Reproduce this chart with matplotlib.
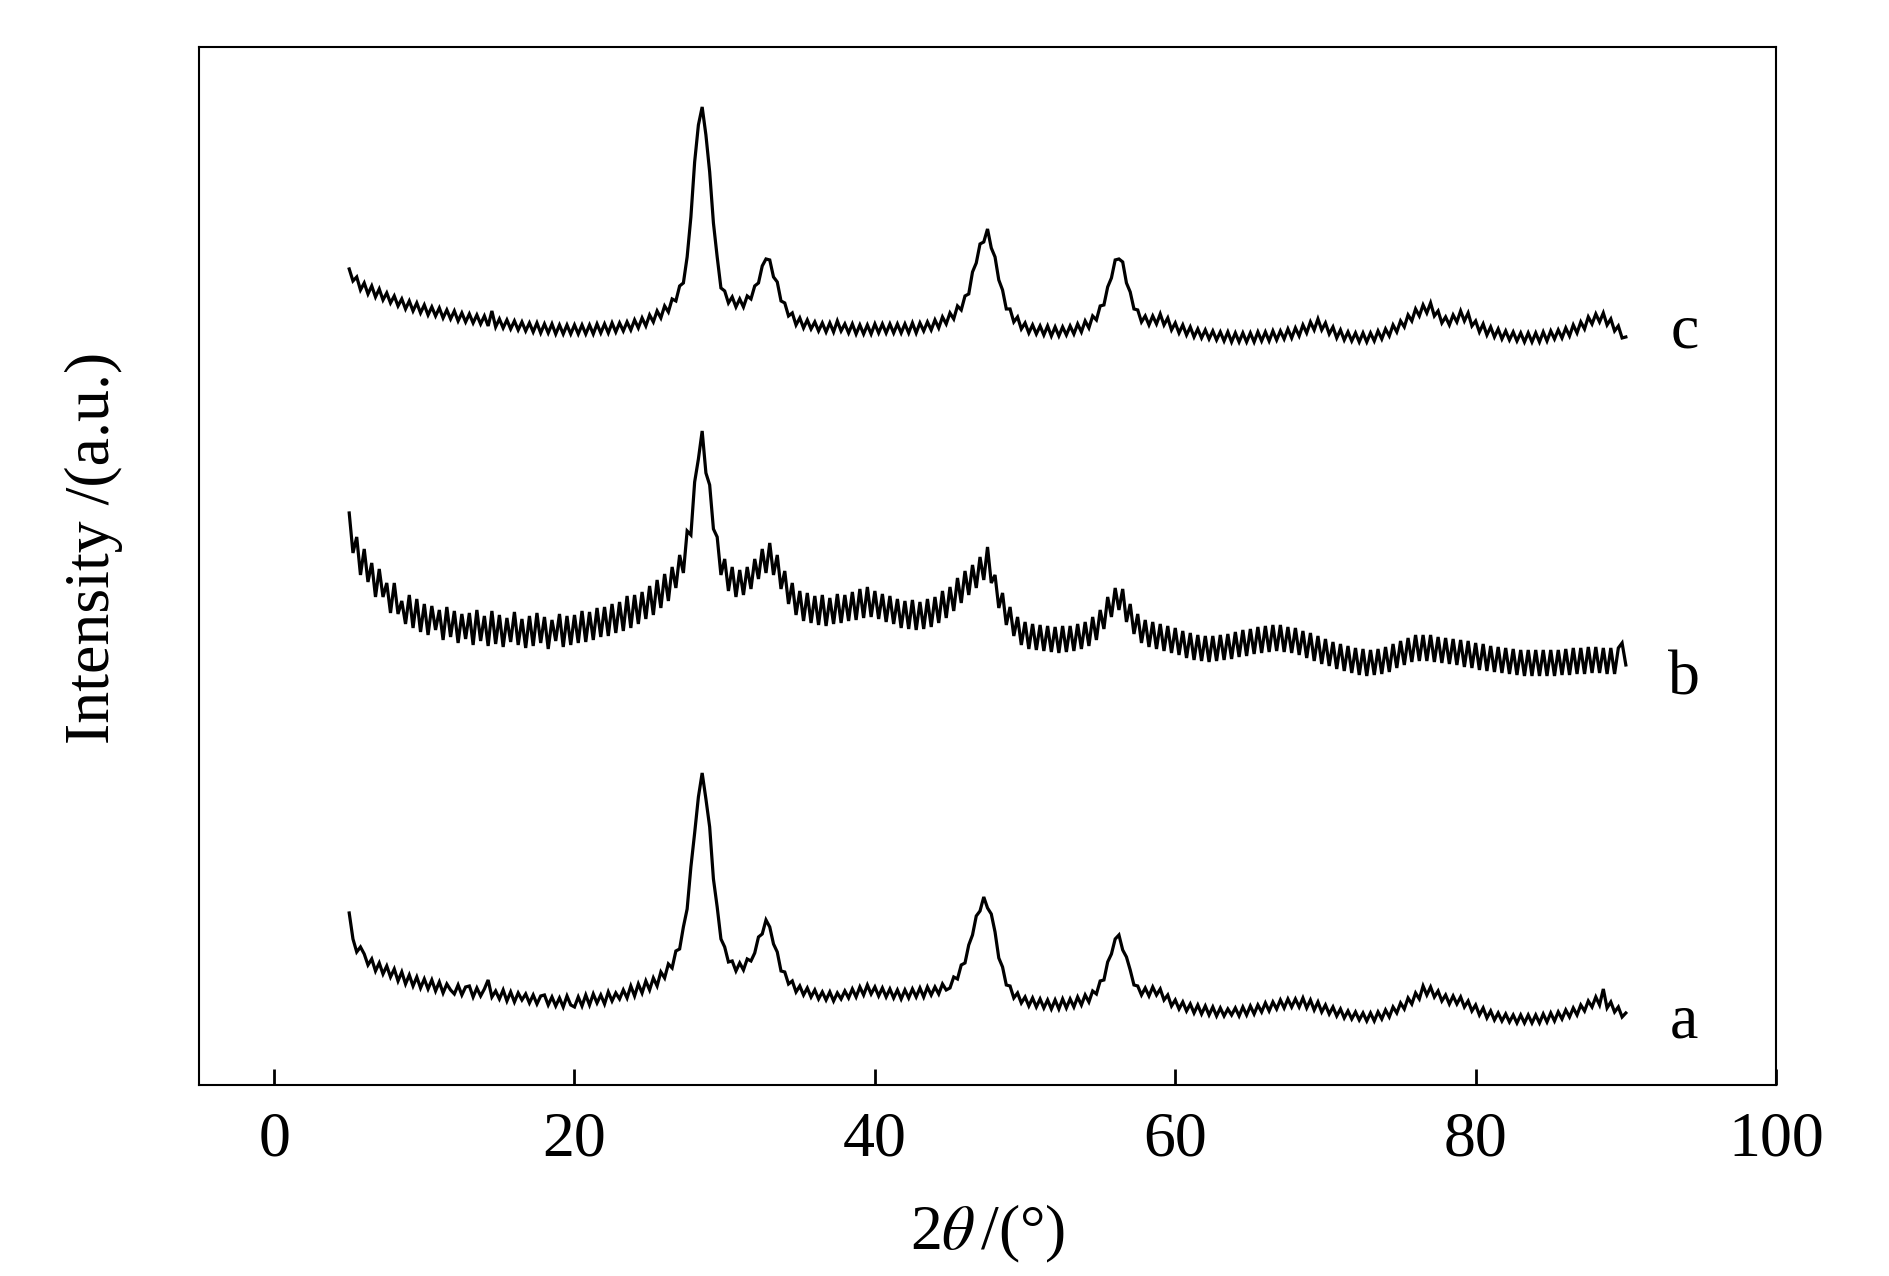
import numpy as np
import matplotlib.pyplot as plt

plt.rcParams['font.family'] = ['Liberation Serif', 'DejaVu Serif']
plt.rcParams['mathtext.fontset'] = 'stix'

# scan: 2theta from 5 to 90 deg, 0.25 deg step
scan_start = 5.0
scan_step = 0.25

# intensities (a.u.), one row = 5 degrees
sample_a = [
    172, 146, 133, 138, 131, 120, 126, 114, 122, 111, 119, 108, 116, 104, 113, 101, 110, 99, 108, 97,
    106, 96, 105, 94, 103, 92, 101, 95, 91, 100, 90, 98, 99, 88, 97, 89, 96, 105, 88, 94,
    86, 95, 84, 93, 83, 92, 85, 91, 82, 90, 81, 89, 90, 80, 88, 79, 87, 78, 89, 80,
    78, 88, 79, 90, 80, 91, 82, 90, 81, 93, 84, 92, 86, 95, 87, 99, 89, 101, 92, 104,
    95, 107, 99, 113, 107, 121, 117, 134, 136, 158, 176, 218, 252, 288, 312, 286, 258, 206, 178, 146,
    138, 123, 124, 114, 122, 115, 126, 124, 132, 148, 151, 165, 158, 141, 133, 114, 113, 101, 104, 93,
    99, 90, 97, 88, 95, 86, 93, 85, 93, 84, 92, 86, 94, 87, 96, 88, 98, 90, 100, 91,
    98, 89, 97, 88, 96, 87, 95, 86, 95, 87, 96, 88, 97, 88, 98, 90, 98, 91, 101, 95,
    97, 108, 106, 120, 122, 140, 150, 169, 174, 188, 177, 171, 153, 127, 118, 100, 99, 87, 92, 82,
    88, 79, 87, 78, 86, 77, 85, 76, 85, 76, 86, 77, 86, 78, 88, 80, 90, 83, 94, 91,
    104, 105, 123, 131, 146, 150, 135, 128, 115, 100, 99, 90, 97, 89, 98, 90, 96, 85, 90, 79,
    85, 76, 83, 74, 81, 72, 80, 71, 79, 70, 78, 69, 77, 69, 76, 70, 77, 69, 78, 70,
    79, 71, 80, 73, 82, 74, 83, 76, 85, 77, 86, 78, 86, 78, 87, 77, 85, 75, 83, 73,
    80, 71, 78, 69, 76, 67, 74, 66, 73, 65, 72, 64, 72, 64, 73, 66, 75, 68, 78, 72,
    82, 76, 87, 81, 92, 86, 99, 90, 98, 88, 94, 84, 90, 81, 89, 81, 88, 78, 84, 74,
    80, 70, 77, 67, 74, 65, 72, 64, 71, 63, 70, 62, 70, 62, 70, 62, 70, 62, 71, 63,
    72, 64, 73, 66, 75, 68, 77, 70, 80, 74, 84, 78, 88, 80, 96, 77, 83, 73, 78, 68,
    72,
]

sample_b = [
    212, 172, 188, 150, 176, 143, 162, 128, 156, 128, 142, 112, 142, 111, 124, 101, 130, 97, 126, 93,
    121, 90, 119, 95, 115, 85, 118, 88, 114, 82, 111, 86, 112, 80, 115, 84, 109, 79, 114, 81,
    110, 78, 107, 83, 113, 80, 106, 77, 109, 79, 112, 82, 108, 76, 105, 84, 111, 78, 109, 80,
    110, 82, 114, 83, 113, 85, 117, 88, 118, 89, 121, 92, 123, 94, 129, 97, 130, 101, 133, 106,
    139, 110, 145, 117, 151, 124, 158, 137, 170, 152, 194, 190, 243, 266, 294, 252, 240, 196, 188, 150,
    166, 134, 158, 128, 155, 130, 158, 136, 166, 146, 176, 152, 182, 150, 170, 136, 154, 121, 142, 110,
    134, 104, 132, 102, 129, 100, 130, 99, 127, 101, 131, 102, 130, 104, 133, 105, 136, 107, 138, 108,
    134, 106, 131, 103, 129, 101, 126, 97, 124, 96, 125, 95, 123, 96, 126, 98, 128, 102, 134, 107,
    138, 114, 147, 122, 154, 130, 160, 137, 168, 145, 178, 142, 150, 117, 132, 100, 118, 89, 108, 80,
    103, 76, 101, 75, 100, 74, 99, 73, 98, 72, 99, 73, 99, 74, 101, 76, 103, 79, 108, 85,
    115, 96, 128, 108, 137, 115, 136, 103, 121, 91, 111, 82, 105, 78, 103, 76, 101, 74, 99, 72,
    97, 70, 94, 67, 92, 65, 90, 64, 89, 63, 89, 64, 90, 65, 91, 66, 93, 68, 95, 69,
    96, 71, 98, 72, 99, 73, 100, 74, 100, 73, 98, 72, 97, 70, 94, 67, 92, 64, 89, 61,
    86, 59, 83, 56, 81, 54, 79, 52, 77, 50, 76, 49, 75, 50, 76, 51, 78, 53, 81, 57,
    84, 60, 87, 63, 90, 64, 90, 64, 90, 63, 88, 62, 87, 61, 86, 60, 85, 58, 84, 57,
    82, 55, 81, 54, 79, 53, 78, 52, 77, 51, 76, 50, 75, 49, 75, 49, 75, 49, 75, 49,
    75, 49, 75, 50, 76, 50, 77, 51, 77, 51, 78, 52, 78, 52, 77, 51, 77, 51, 77, 82,
    60,
]

sample_c = [
    136, 124, 128, 115, 122, 111, 119, 108, 116, 105, 112, 102, 109, 99, 106, 96, 104, 94, 102, 92,
    100, 90, 98, 89, 97, 87, 95, 86, 94, 84, 92, 83, 91, 82, 90, 81, 89, 79, 94, 78,
    86, 77, 85, 76, 84, 75, 83, 74, 82, 73, 82, 72, 81, 72, 81, 71, 80, 71, 80, 71,
    80, 71, 80, 71, 80, 71, 81, 72, 81, 72, 82, 73, 82, 74, 83, 75, 85, 77, 87, 79,
    90, 83, 94, 87, 99, 93, 106, 104, 119, 122, 148, 188, 243, 280, 298, 270, 233, 182, 148, 117,
    114, 102, 108, 98, 106, 98, 109, 106, 119, 122, 139, 146, 145, 128, 123, 104, 102, 89, 92, 80,
    87, 77, 85, 76, 83, 74, 82, 73, 82, 73, 84, 74, 81, 72, 81, 71, 80, 71, 80, 71,
    81, 72, 81, 72, 81, 72, 81, 72, 81, 72, 82, 72, 82, 74, 83, 75, 85, 77, 88, 81,
    92, 86, 99, 95, 109, 111, 133, 142, 161, 163, 176, 157, 148, 125, 115, 96, 96, 83, 88, 76,
    82, 72, 80, 71, 79, 70, 79, 69, 78, 69, 78, 70, 79, 71, 81, 73, 84, 77, 89, 85,
    99, 100, 118, 127, 145, 146, 143, 122, 113, 96, 95, 83, 89, 80, 89, 81, 91, 80, 87, 75,
    82, 72, 80, 70, 78, 68, 76, 67, 75, 66, 74, 65, 73, 64, 73, 63, 72, 63, 72, 63,
    72, 63, 73, 64, 73, 64, 74, 65, 74, 66, 76, 67, 77, 69, 80, 72, 83, 75, 86, 75,
    82, 71, 78, 67, 75, 65, 73, 64, 72, 63, 72, 63, 72, 64, 74, 66, 76, 69, 80, 73,
    84, 78, 90, 84, 96, 89, 100, 92, 102, 89, 94, 82, 88, 80, 90, 83, 94, 84, 92, 79,
    84, 73, 81, 70, 78, 68, 76, 66, 74, 65, 73, 64, 72, 63, 72, 63, 72, 63, 73, 64,
    74, 66, 75, 67, 77, 69, 80, 72, 83, 76, 88, 81, 91, 83, 92, 80, 86, 74, 79, 67,
    68,
]

curve_names = ['a', 'b', 'c']
curve_offsets = [0, 360, 680]
label_heights = [47, 390, 737]

fig = plt.figure(figsize=(18.9, 12.76), dpi=100)
ax = fig.add_axes([0.1053, 0.1497, 0.8344, 0.8135])

for name, vals, off, ly in zip(curve_names, [sample_a, sample_b, sample_c],
                               curve_offsets, label_heights):
    y = np.array(vals, dtype=float)
    x = scan_start + scan_step * np.arange(len(y))
    ax.plot(x, y + off, color='black', lw=2.3, solid_joinstyle='miter')
    ax.text(93.9, ly, name, fontsize=46, ha='center', va='baseline')

ax.set_xlim(-5, 100)
ax.set_ylim(0, 1038)
ax.set_xticks(range(0, 101, 20))
ax.set_yticks([])
ax.tick_params(axis='x', direction='in', length=11.5, width=2, labelsize=46, pad=19)
for s in ax.spines.values():
    s.set_linewidth(1.5)

ax.set_xlabel(r'2$\theta\,$/(°)', fontsize=46, labelpad=24)
ax.set_ylabel('Intensity /(a.u.)', fontsize=46)
ax.yaxis.set_label_coords(-0.048, 0.517)

fig.savefig('out.png', dpi=100)
